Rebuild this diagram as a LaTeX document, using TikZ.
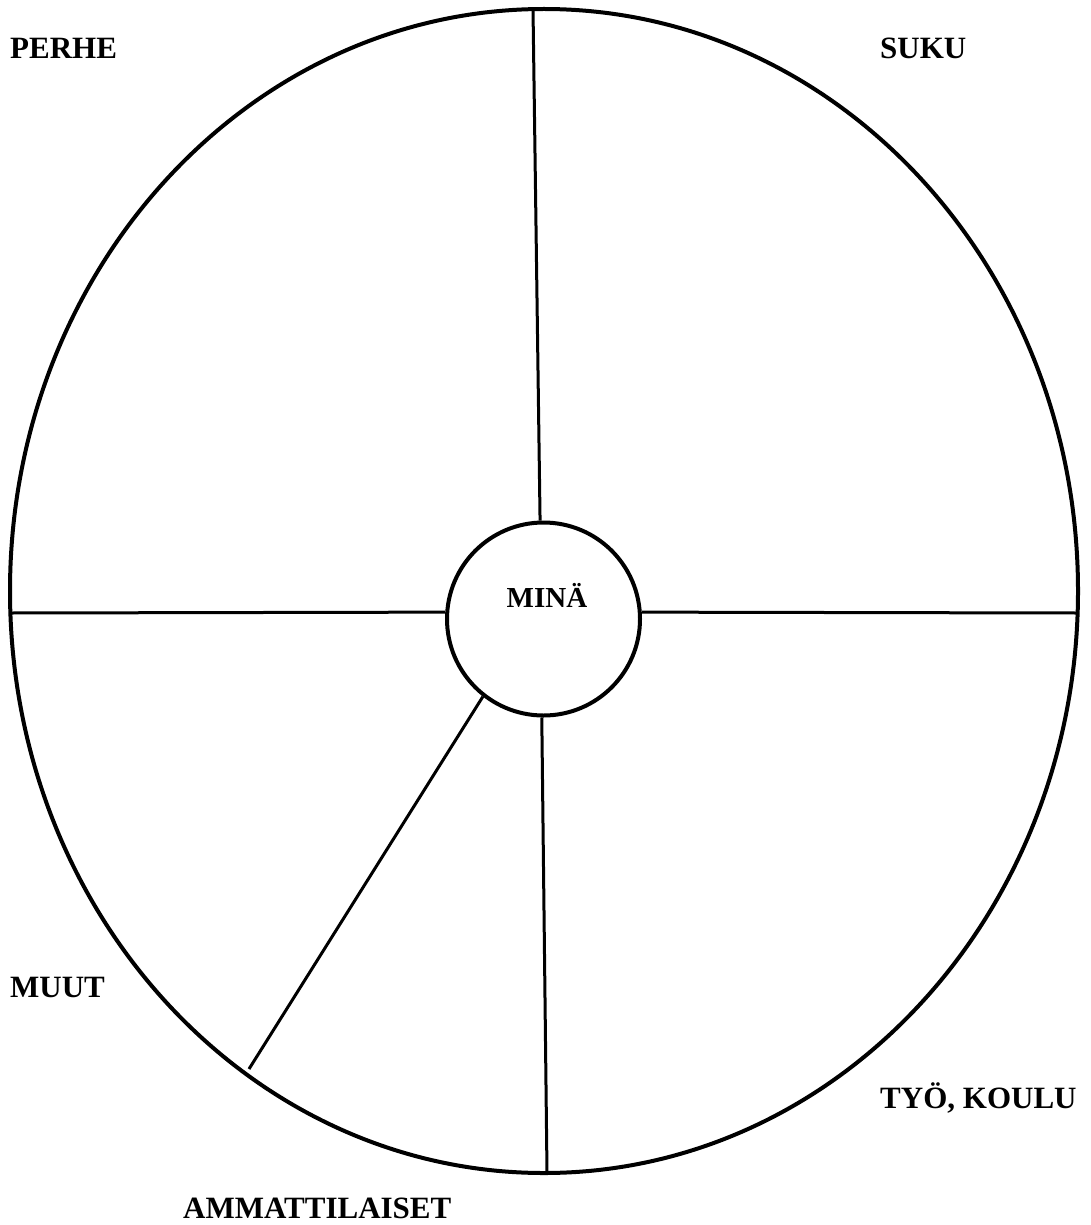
\documentclass[tikz,border=0pt]{standalone}
\usepackage{fontspec}
\setmainfont{Liberation Serif}
\usetikzlibrary{shapes.geometric}

\begin{document}
\begin{tikzpicture}[x=1pt,y=-1pt,
  rim/.style={draw,ellipse,line width=4pt,inner sep=0pt,
              minimum width=1068pt,minimum height=1164pt},
  ring/.style={draw,circle,line width=4pt,inner sep=0pt,minimum size=193pt},
  spoke/.style={line width=3pt},
  lbl/.style={font=\fontsize{31}{36}\selectfont\bfseries,inner sep=0pt,anchor=base west}]
  \useasboundingbox (0,0) rectangle (1091,1225);
  \node[rim] (kentta) at (544,591) {};
  \node[ring] (mina) at (543.5,619) {};
  \node[lbl,font=\fontsize{29}{34}\selectfont\bfseries,anchor=base] (minatxt) at (547,607) {MINÄ};
  \coordinate (rimN) at (533,9);
  \coordinate (rimW) at (10,613);
  \coordinate (rimE) at (1078,613);
  \coordinate (rimS) at (547,1173);
  \coordinate (rimSW) at (249,1069);
  \foreach \a/\b in {rimN/92,rimW/176,rimE/4,rimS/269,rimSW/232}
     \draw[spoke] (\a) -- (mina.\b);
  \node[lbl] (perhe) at (10,58.5) {PERHE};
  \node[lbl] (suku) at (880,59) {SUKU};
  \node[lbl] (muut) at (10,997.5) {MUUT};
  \node[lbl] (tyokoulu) at (880,1108.5) {TYÖ, KOULU};
  \node[lbl] (ammatti) at (183,1218.5) {AMMATTILAISET};
\end{tikzpicture}
\end{document}
